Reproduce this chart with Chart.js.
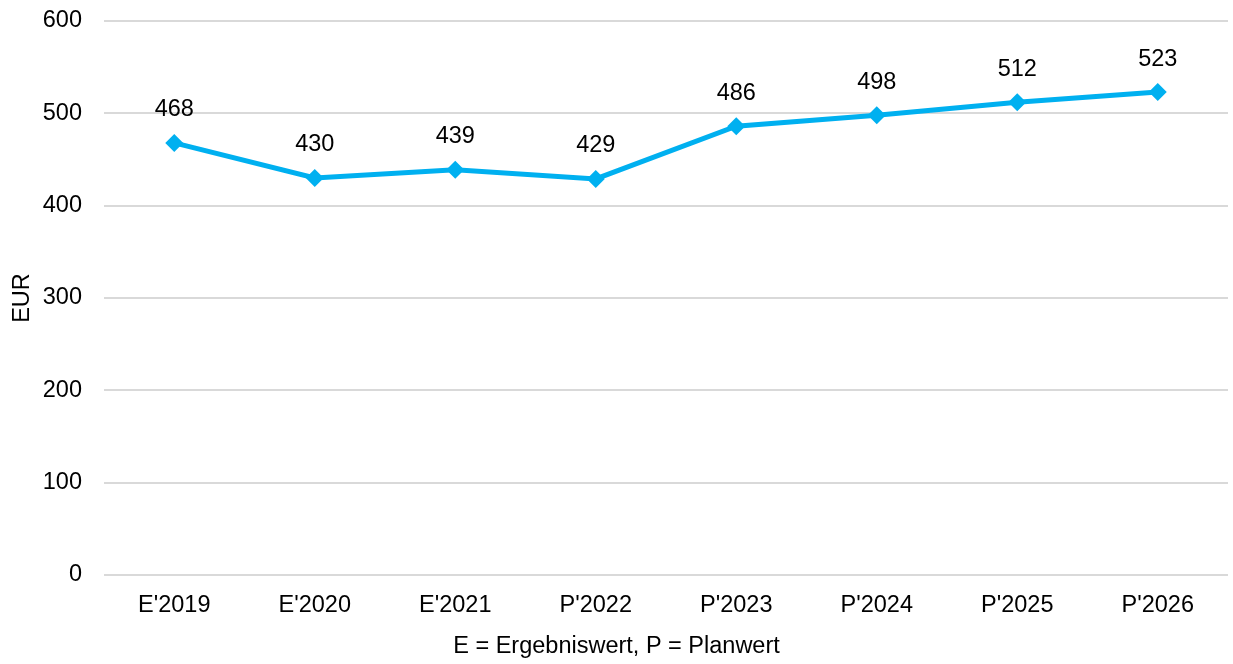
<!DOCTYPE html>
<html>
<head>
<meta charset="utf-8">
<script src="https://cdn.jsdelivr.net/npm/chart.js@4/dist/chart.umd.min.js"></script>
<style>
  html, body { margin: 0; padding: 0; background: #fff; overflow: hidden; }
  #wrap { width: 1233px; height: 664px; overflow: hidden; }
</style>
</head>
<body>
<div id="wrap"><canvas id="grafico" width="1237" height="664"></canvas></div>
<script>
// Daten
const kategorien = ["E'2019", "E'2020", "E'2021", "P'2022", "P'2023", "P'2024", "P'2025", "P'2026"];
const werte = [468, 430, 439, 429, 486, 498, 512, 523];
const yTicks = [0, 100, 200, 300, 400, 500, 600];
const xTitel = 'E = Ergebniswert, P = Planwert';

const FONT = "'Liberation Sans', Arial, sans-serif";
const GROESSE = 23.5;
const BLAU = '#00B0F0';

// Wertbeschriftungen über den Punkten + Achsentitel unten (mittig im Bild)
const wertLabels = {
  id: 'wertLabels',
  afterDatasetsDraw(chart) {
    const ctx = chart.ctx;
    const meta = chart.getDatasetMeta(0);
    ctx.save();
    ctx.font = GROESSE + 'px ' + FONT;
    ctx.fillStyle = '#000';
    ctx.textAlign = 'center';
    ctx.textBaseline = 'middle';
    meta.data.forEach((pt, i) => {
      ctx.fillText(String(werte[i]), pt.x, pt.y - 33);
    });
    ctx.fillText(xTitel, 1233 / 2, 647);
    ctx.restore();
  }
};

const ctx = document.getElementById('grafico').getContext('2d');
new Chart(ctx, {
  type: 'line',
  data: {
    labels: kategorien,
    datasets: [{
      data: werte,
      borderColor: BLAU,
      backgroundColor: BLAU,
      borderWidth: 5,
      tension: 0,
      pointStyle: 'rectRot',
      pointRadius: 9,
      pointHoverRadius: 9,
      pointBorderWidth: 0
    }]
  },
  options: {
    responsive: false,
    animation: false,
    layout: { padding: { top: 21, right: 0, left: 0, bottom: 0 } },
    plugins: {
      legend: { display: false },
      tooltip: { enabled: false }
    },
    scales: {
      x: {
        offset: true,
        grid: { display: false, drawTicks: false, offset: true },
        border: { display: false },
        ticks: { color: '#000', font: { family: FONT, size: GROESSE }, padding: 16, maxRotation: 0 },
        afterFit(scale) {
          scale.height = 89;
          scale.paddingLeft = 0;
          scale.paddingRight = 0;
        }
      },
      y: {
        min: 0,
        max: 600,
        afterBuildTicks(scale) { scale.ticks = yTicks.map(v => ({ value: v })); },
        grid: { color: '#D9D9D9', lineWidth: 2, drawTicks: false },
        border: { display: false },
        ticks: { color: '#000', font: { family: FONT, size: GROESSE }, padding: 22 },
        title: {
          display: true,
          text: 'EUR',
          color: '#000',
          font: { family: FONT, size: GROESSE },
          padding: { top: 8, bottom: 0 }
        },
        afterFit(scale) {
          scale.width = 104;
          scale.paddingTop = 0;
          scale.paddingBottom = 0;
        }
      }
    }
  },
  plugins: [wertLabels]
});
</script>
</body>
</html>
